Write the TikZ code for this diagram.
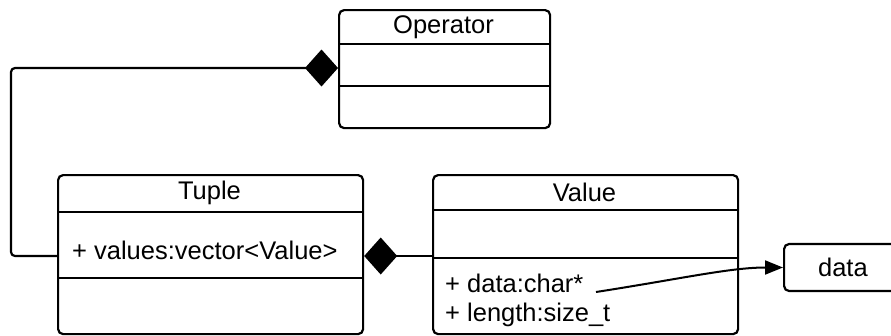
\documentclass[tikz,border=0pt]{standalone}
\usepackage{fontspec}
\setmainfont{Liberation Sans}
\usetikzlibrary{arrows.meta}
\begin{document}
\begin{tikzpicture}[x=1pt,y=-1pt,
  every node/.style={font=\fontsize{25.5}{30}\selectfont, inner sep=0pt},
  classbox/.style={draw, line width=2.2pt, rounded corners=5pt, anchor=north west},
  sepline/.style={line width=2.2pt},
  link/.style={line width=2.2pt, rounded corners=4pt},
  compose/.style={link, {Diamond[length=33pt,width=37pt]}-},
  pointer/.style={line width=2pt, -{Triangle[length=18pt,width=14pt]}}
]
\useasboundingbox (0,0) rectangle (891,335);

% Operator class
\node[classbox, minimum width=211pt, minimum height=118pt] (op) at (338,9) {};
\node (opname) at (443.5,27) {Operator};
\draw[sepline] (op.west |- 0,44) -- (op.east |- 0,44);
\draw[sepline] (op.west |- 0,86) -- (op.east |- 0,86);

% Tuple class
\node[classbox, minimum width=305pt, minimum height=159pt] (tuple) at (57,174) {};
\node (tuplename) at (209.5,193) {Tuple};
\draw[sepline] (tuple.west |- 0,212) -- (tuple.east |- 0,212);
\draw[sepline] (tuple.west |- 0,278) -- (tuple.east |- 0,278);
\node[anchor=west] (tupleattr) at (72,250) {+ values:vector<Value>};

% Value class
\node[classbox, minimum width=305pt, minimum height=159pt] (value) at (432,174) {};
\node (valuename) at (584.5,192) {Value};
\draw[sepline] (value.west |- 0,210) -- (value.east |- 0,210);
\draw[sepline] (value.west |- 0,258) -- (value.east |- 0,258);
\node[anchor=west] (vdata) at (445,283) {+ data:char*};
\node[anchor=west] (vlength) at (445,315) {+ length:size\_t};

% data buffer
\node[draw, line width=2.2pt, rounded corners=5pt, minimum width=118pt,
      minimum height=47pt, anchor=west, text width=118pt, align=left] (data) at (783,267.5)
      {\hspace*{34pt}data};

% Compositions
\coordinate (bendtop) at (11,68);
\coordinate (bendbot) at (11,256);
\draw[compose] (op.west |- 0,68) -- (bendtop) -- (bendbot) -- (tuple.west |- 0,256);
\draw[compose] (tuple.east |- 0,256) -- (value.west |- 0,256);

% Pointer from the data member to the buffer
\coordinate (dstart) at (596,292);
\draw[pointer] (dstart) .. controls (680,279) and (730,267.5) .. (data.west);
\end{tikzpicture}
\end{document}
